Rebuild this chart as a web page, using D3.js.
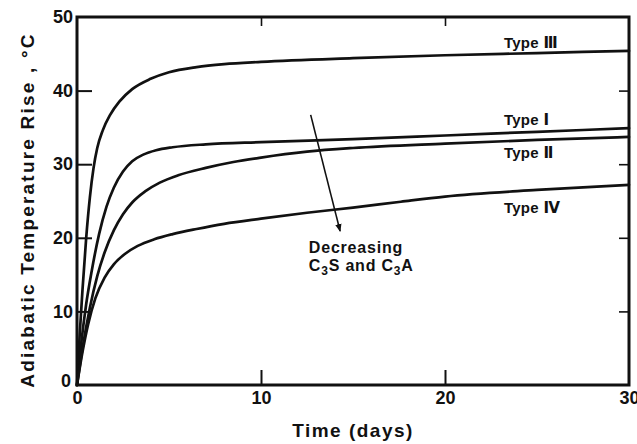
<!DOCTYPE html>
<html>
<head>
<meta charset="utf-8">
<script src="https://cdn.jsdelivr.net/npm/d3@7"></script>
<style>
  html, body { margin: 0; padding: 0; background: #fff; }
  svg { display: block; }
  text { fill: #111; }
</style>
</head>
<body>
<svg id="chart" width="637" height="444"></svg>
<script>
// Adiabatic temperature rise of concrete by cement type
const timeType3 = [0, 0.15, 0.3, 0.5, 0.7, 0.9, 1.1, 1.4, 1.8, 2.3, 3, 4, 5, 6.5, 8, 10, 15, 20, 25, 30];
const riseType3 = [0, 7, 13, 20, 25.5, 29.5, 32.2, 34.6, 36.7, 38.5, 40.2, 41.6, 42.5, 43.2, 43.6, 43.9, 44.4, 44.8, 45.1, 45.4];

const timeType1 = [0, 0.2, 0.5, 0.8, 1.2, 1.6, 2.0, 2.5, 3.0, 3.6, 4.3, 5.2, 7, 10, 15, 20, 25, 30];
const riseType1 = [0, 5, 11, 15.5, 20.5, 24.2, 26.8, 29, 30.4, 31.3, 31.9, 32.3, 32.7, 33.0, 33.4, 33.9, 34.4, 34.9];

const timeType2 = [0, 0.3, 0.7, 1.1, 1.5, 2.0, 2.5, 3.0, 3.7, 4.5, 5.5, 7, 8.5, 10, 12.5, 15, 20, 25, 30];
const riseType2 = [0, 5, 10.5, 14.8, 18, 21, 23.2, 24.8, 26.3, 27.5, 28.5, 29.5, 30.3, 30.9, 31.7, 32.2, 32.8, 33.3, 33.7];

const timeType4 = [0, 0.3, 0.6, 1.0, 1.5, 2.0, 2.6, 3.3, 4.2, 5.2, 6.5, 8, 10, 12.5, 15, 17.6, 20, 25, 30];
const riseType4 = [0, 4.5, 8.2, 11.8, 14.6, 16.4, 17.8, 18.9, 19.8, 20.5, 21.2, 21.9, 22.6, 23.4, 24.1, 24.9, 25.6, 26.5, 27.2];

const seriesWord = "Type";
const seriesNumerals = ["\u2162", "\u2160", "\u2161", "\u2163"];   // Ⅲ Ⅰ Ⅱ Ⅳ
const seriesTimes = [timeType3, timeType1, timeType2, timeType4];
const seriesRises = [riseType3, riseType1, riseType2, riseType4];
// label anchor (time, rise) for each curve's name
const labelTime = [23.2, 23.2, 23.2, 23.2];
const labelRise = [45.8, 35.3, 30.9, 23.4];

const xTicks = [0, 10, 20, 30];
const yTicks = [0, 10, 20, 30, 40, 50];

// arrow annotation, in data units
const arrowFrom = [12.7, 36.7];
const arrowTo = [14.3, 20.9];
const noteAt = [12.6, 18.0];

const svg = d3.select("#chart");
const mLeft = 77, mRight = 629, mTop = 17, mBottom = 385;

const x = d3.scaleLinear().domain([0, 30]).range([mLeft, mRight]);
const y = d3.scaleLinear().domain([0, 50]).range([mBottom, mTop]);

const font = "'Liberation Sans', Arial, sans-serif";

// frame
svg.append("rect")
  .attr("x", mLeft).attr("y", mTop)
  .attr("width", mRight - mLeft).attr("height", mBottom - mTop)
  .attr("fill", "none").attr("stroke", "#111").attr("stroke-width", 3);

// axes with inward ticks
const inner = [10, 20, 30, 40];
const yAxis = svg.append("g").attr("transform", `translate(${mLeft},0)`)
  .call(d3.axisLeft(y).tickValues(yTicks).tickSizeInner(-15).tickSizeOuter(0).tickPadding(4).tickFormat(d3.format("d")));
yAxis.select(".domain").remove();
yAxis.selectAll(".tick line").attr("stroke", "#111").attr("stroke-width", 2)
  .attr("opacity", d => inner.includes(d) ? 1 : 0);
yAxis.selectAll(".tick text").attr("font-family", font).attr("font-size", 18).attr("font-weight", "bold")
  .attr("fill", "#111");
yAxis.selectAll(".tick text").filter(d => d === 0).attr("dy", "0.1em").attr("x", -6);

const xAxis = svg.append("g").attr("transform", `translate(0,${mBottom})`)
  .call(d3.axisBottom(x).tickValues(xTicks).tickSizeInner(-15).tickSizeOuter(0).tickPadding(6).tickFormat(d3.format("d")));
xAxis.select(".domain").remove();
xAxis.selectAll(".tick line").attr("stroke", "#111").attr("stroke-width", 2)
  .attr("opacity", d => (d === 10 || d === 20) ? 1 : 0);
xAxis.selectAll(".tick text").attr("font-family", font).attr("font-size", 18).attr("font-weight", "bold")
  .attr("fill", "#111");

const topAxis = svg.append("g").attr("transform", `translate(0,${mTop})`)
  .call(d3.axisTop(x).tickValues([10, 20]).tickSizeInner(-9).tickSizeOuter(0).tickFormat(""));
topAxis.select(".domain").remove();
topAxis.selectAll(".tick line").attr("stroke", "#111").attr("stroke-width", 1.6);

const rightAxis = svg.append("g").attr("transform", `translate(${mRight},0)`)
  .call(d3.axisRight(y).tickValues(inner).tickSizeInner(-10).tickSizeOuter(0).tickFormat(""));
rightAxis.select(".domain").remove();
rightAxis.selectAll(".tick line").attr("stroke", "#111").attr("stroke-width", 1.6);

// curves
const line = d3.line().x(d => x(d[0])).y(d => y(d[1])).curve(d3.curveMonotoneX);
seriesTimes.forEach((ts, i) => {
  const pts = ts.map((t, j) => [t, seriesRises[i][j]]);
  svg.append("path").datum(pts)
    .attr("d", line)
    .attr("fill", "none").attr("stroke", "#111").attr("stroke-width", 2.7)
    .attr("stroke-linejoin", "round").attr("stroke-linecap", "round");
});

// curve names
seriesNumerals.forEach((num, i) => {
  const t = svg.append("text")
    .attr("x", x(labelTime[i])).attr("y", y(labelRise[i]))
    .attr("font-family", font).attr("font-size", 15).attr("font-weight", "bold")
    .attr("letter-spacing", 0.3);
  t.append("tspan").text(seriesWord + " ");
  t.append("tspan").attr("font-family", "'DejaVu Sans', sans-serif")
    .attr("font-size", 15).text(num);
});

// arrow
const defs = svg.append("defs");
defs.append("marker").attr("id", "head")
  .attr("viewBox", "0 0 10 10").attr("refX", 9).attr("refY", 5)
  .attr("markerWidth", 5).attr("markerHeight", 7).attr("markerUnits", "strokeWidth")
  .attr("orient", "auto")
  .append("path").attr("d", "M0,1 L10,5 L0,9 Z").attr("fill", "#111");
svg.append("line")
  .attr("x1", x(arrowFrom[0])).attr("y1", y(arrowFrom[1]))
  .attr("x2", x(arrowTo[0])).attr("y2", y(arrowTo[1]))
  .attr("stroke", "#111").attr("stroke-width", 1.6)
  .attr("marker-end", "url(#head)");

// note: "Decreasing / C3S and C3A"
const nx = x(noteAt[0]);
const note = svg.append("text")
  .attr("x", nx).attr("y", y(noteAt[1]))
  .attr("font-family", font).attr("font-size", 16).attr("font-weight", "bold")
  .attr("letter-spacing", 0.8);
note.append("tspan").attr("x", nx).text("Decreasing");
const l2 = svg.append("text")
  .attr("x", nx).attr("y", y(noteAt[1]) + 18)
  .attr("font-family", font).attr("font-size", 16).attr("font-weight", "bold")
  .attr("letter-spacing", 0.8);
l2.append("tspan").text("C");
l2.append("tspan").attr("font-size", 12).attr("dy", 4).text("3");
l2.append("tspan").attr("dy", -4).text("S and C");
l2.append("tspan").attr("font-size", 12).attr("dy", 4).text("3");
l2.append("tspan").attr("dy", -4).text("A");

// axis titles
svg.append("text")
  .attr("x", (mLeft + mRight) / 2).attr("y", 437)
  .attr("text-anchor", "middle")
  .attr("font-family", font).attr("font-size", 19).attr("font-weight", "bold")
  .attr("letter-spacing", 1.5)
  .text("Time (days)");
svg.append("text")
  .attr("transform", `translate(34,${(mTop + mBottom) / 2 + 9}) rotate(-90)`)
  .attr("text-anchor", "middle")
  .attr("font-family", font).attr("font-size", 19).attr("font-weight", "bold")
  .attr("letter-spacing", 2.2)
  .text("Adiabatic Temperature Rise , \u00B0C");
</script>
</body>
</html>
